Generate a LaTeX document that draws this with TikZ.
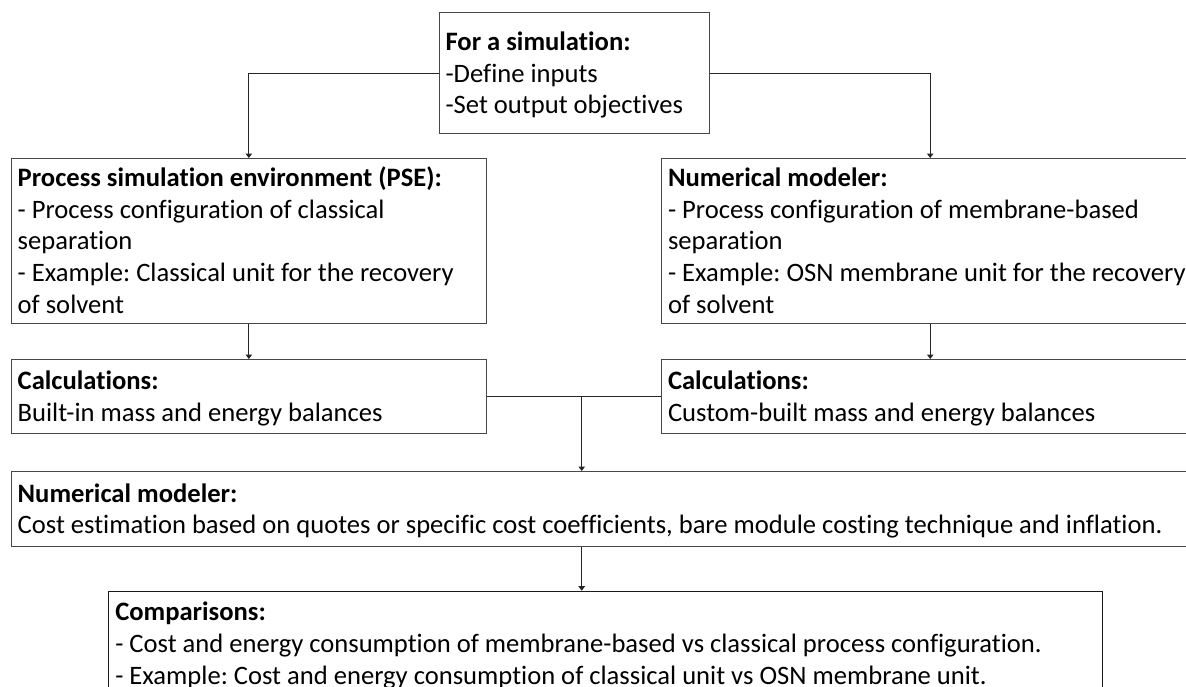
\documentclass[tikz,border=0pt]{standalone}
\usepackage{fontspec}
\setmainfont{Carlito}[Ligatures=NoCommon]
\usetikzlibrary{arrows.meta}
\frenchspacing
\newcommand\bxt[4]{\parbox[c][#2][t]{#1}{\frenchspacing\raggedright\leftskip=6.5pt\relax\vspace*{#3}\rule{0pt}{24.7pt}#4}}
\tikzset{
  box/.style={draw=black!72, line width=1pt, inner sep=0pt, anchor=north west,
    font=\fontsize{26.6}{31.6}\selectfont},
  cbox/.style={box, draw=black!90},
  conn/.style={draw=black!85, line width=1pt},
  arr/.style={conn, -{Triangle[length=4.5pt,width=6.5pt]}}
}
\begin{document}
\begin{tikzpicture}[x=1pt,y=-1pt]
\useasboundingbox (0,0) rectangle (1186,686);
\fill[white] (0,0) rectangle (1186,686);
\clip (0,0) rectangle (1186,686);

\node[box] (top) at (438.6,12.3) {\bxt{270pt}{120.7pt}{13pt}{\textbf{For a simulation:}\\-Define inputs\\-Set output objectives}};

\node[box] (pse) at (10.7,158) {\bxt{475.3pt}{164.7pt}{3.4pt}{\textbf{Process simulation environment (PSE):}\\- Process configuration of classical\\separation\\- Example: Classical unit for the recovery\\of solvent}};

\node[box] (nmr) at (661,158) {\bxt{537.4pt}{164.7pt}{3.4pt}{\textbf{Numerical modeler:}\\- Process configuration of membrane-based\\separation\\- Example: OSN membrane unit for the recovery\\of solvent}};

\node[box] (calcl) at (10.7,359) {\bxt{475.3pt}{74.3pt}{5.5pt}{\textbf{Calculations:}\\Built-in mass and energy balances}};

\node[box] (calcr) at (661,359) {\bxt{537.4pt}{74.3pt}{5.5pt}{\textbf{Calculations:}\\Custom-built mass and energy balances}};

\node[box] (nmb) at (10.7,471) {\bxt{1190pt}{75pt}{5.9pt}{\textbf{Numerical modeler:}\\Cost estimation based on quotes or specific cost coefficients, bare module costing technique and inflation.}};

\node[cbox] (cmp) at (108.3,590.7) {\bxt{993.4pt}{105pt}{5pt}{\textbf{Comparisons:}\\- Cost and energy consumption of membrane-based vs classical process configuration.\\- Example: Cost and energy consumption of classical unit vs OSN membrane unit.}};

\draw[arr] (top.west) -| (pse.north);
\draw[arr] (top.east) -| (nmr.north);
\draw[arr] (pse.south) -- (calcl.north);
\draw[arr] (nmr.south) -- (calcr.north);
\draw[conn] (calcl.east) -- (calcr.west);
\coordinate (j) at (581.7,396.2);
\draw[arr] (j) -- (j |- nmb.north);
\draw[arr] (j |- nmb.south) -- (j |- cmp.north);
\end{tikzpicture}
\end{document}
